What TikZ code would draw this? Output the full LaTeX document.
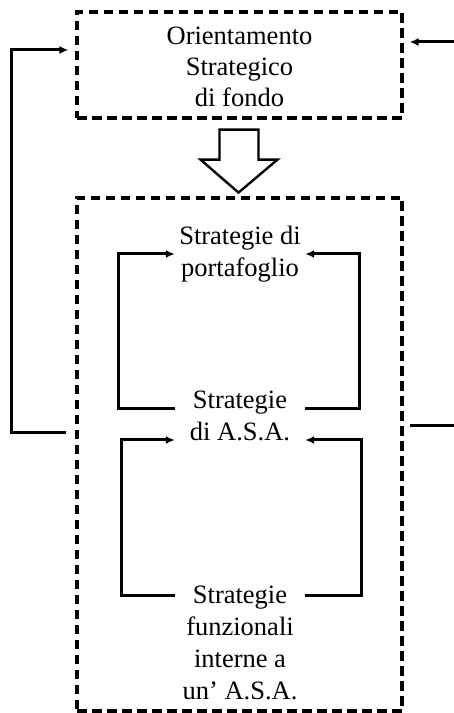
\documentclass[tikz,border=0pt]{standalone}
\usepackage{fontspec}
\setmainfont{Liberation Serif}
\usepackage{tikz}
\usetikzlibrary{positioning,arrows.meta,calc}

\begin{document}
\begin{tikzpicture}[x=1pt, y=1pt,
  frame/.style={draw, line width=3.2pt, dash pattern=on 9.5pt off 5.5pt,
                align=center, inner sep=0pt},
  lbl/.style={font=\fontsize{26.5}{32}\selectfont, align=center, inner sep=0pt,
              minimum width=130pt},
  fb/.style={line width=3pt, -{Latex[length=9pt,width=8pt]}},
  ln/.style={line width=3pt}]
\useasboundingbox (0,0) rectangle (454,713);
% dashed boxes
\node[frame, minimum width=325pt, minimum height=106pt] (orient) at (239.5,648) {};
\node[lbl, font=\fontsize{26.5}{31}\selectfont] (orientTxt) at ($(orient)+(0,-2)$)
  {Orientamento\\Strategico\\di fondo};
\node[frame, minimum width=325pt, minimum height=513pt] (strat) at (239.5,258.5) {};
% block arrow
\draw[line width=2.4pt, fill=white]
  ($(orient.south)+(-20,-10)$) -- ++(39,0) -- ++(0,-30) -- ++(19,0)
  -- ($(orient.south)+(-1,-73)$) -- ++(-38,33) -- ++(19,0) -- cycle;
% levels
\node[lbl] (port) at (240,459) {Strategie di\\portafoglio};
\node[lbl] (asa) at (240,297) {Strategie\\di A.S.A.};
\node[lbl] (funz) at (240,70) {Strategie\\funzionali\\interne a\\un’ A.S.A.};
% inner loops
\draw[fb] ($(asa.west)+(0,7)$) -- ++(-56,0) |- (port.west);
\draw[fb] ($(asa.east)+(0,7)$) -- ++(54,0) |- (port.east);
\draw[fb] ($(funz.west)+(0,47)$) -- ++(-53,0) |- ($(asa.west)+(0,-24)$);
\draw[fb] ($(funz.east)+(0,47)$) -- ++(56,0) |- ($(asa.east)+(0,-24)$);
% outer feedback
\draw[fb] ($(strat.west)+(-9,21.5)$) -- ++(-55,0) |- ($(orient.west)+(-7,15)$);
\coordinate (inR) at (454,671);
\coordinate (outR) at (454,287);
\draw[fb] (inR) -- ($(orient.east)+(6,23)$);
\draw[ln] ($(strat.east)+(6,28.5)$) -- (outR);
\end{tikzpicture}
\end{document}
